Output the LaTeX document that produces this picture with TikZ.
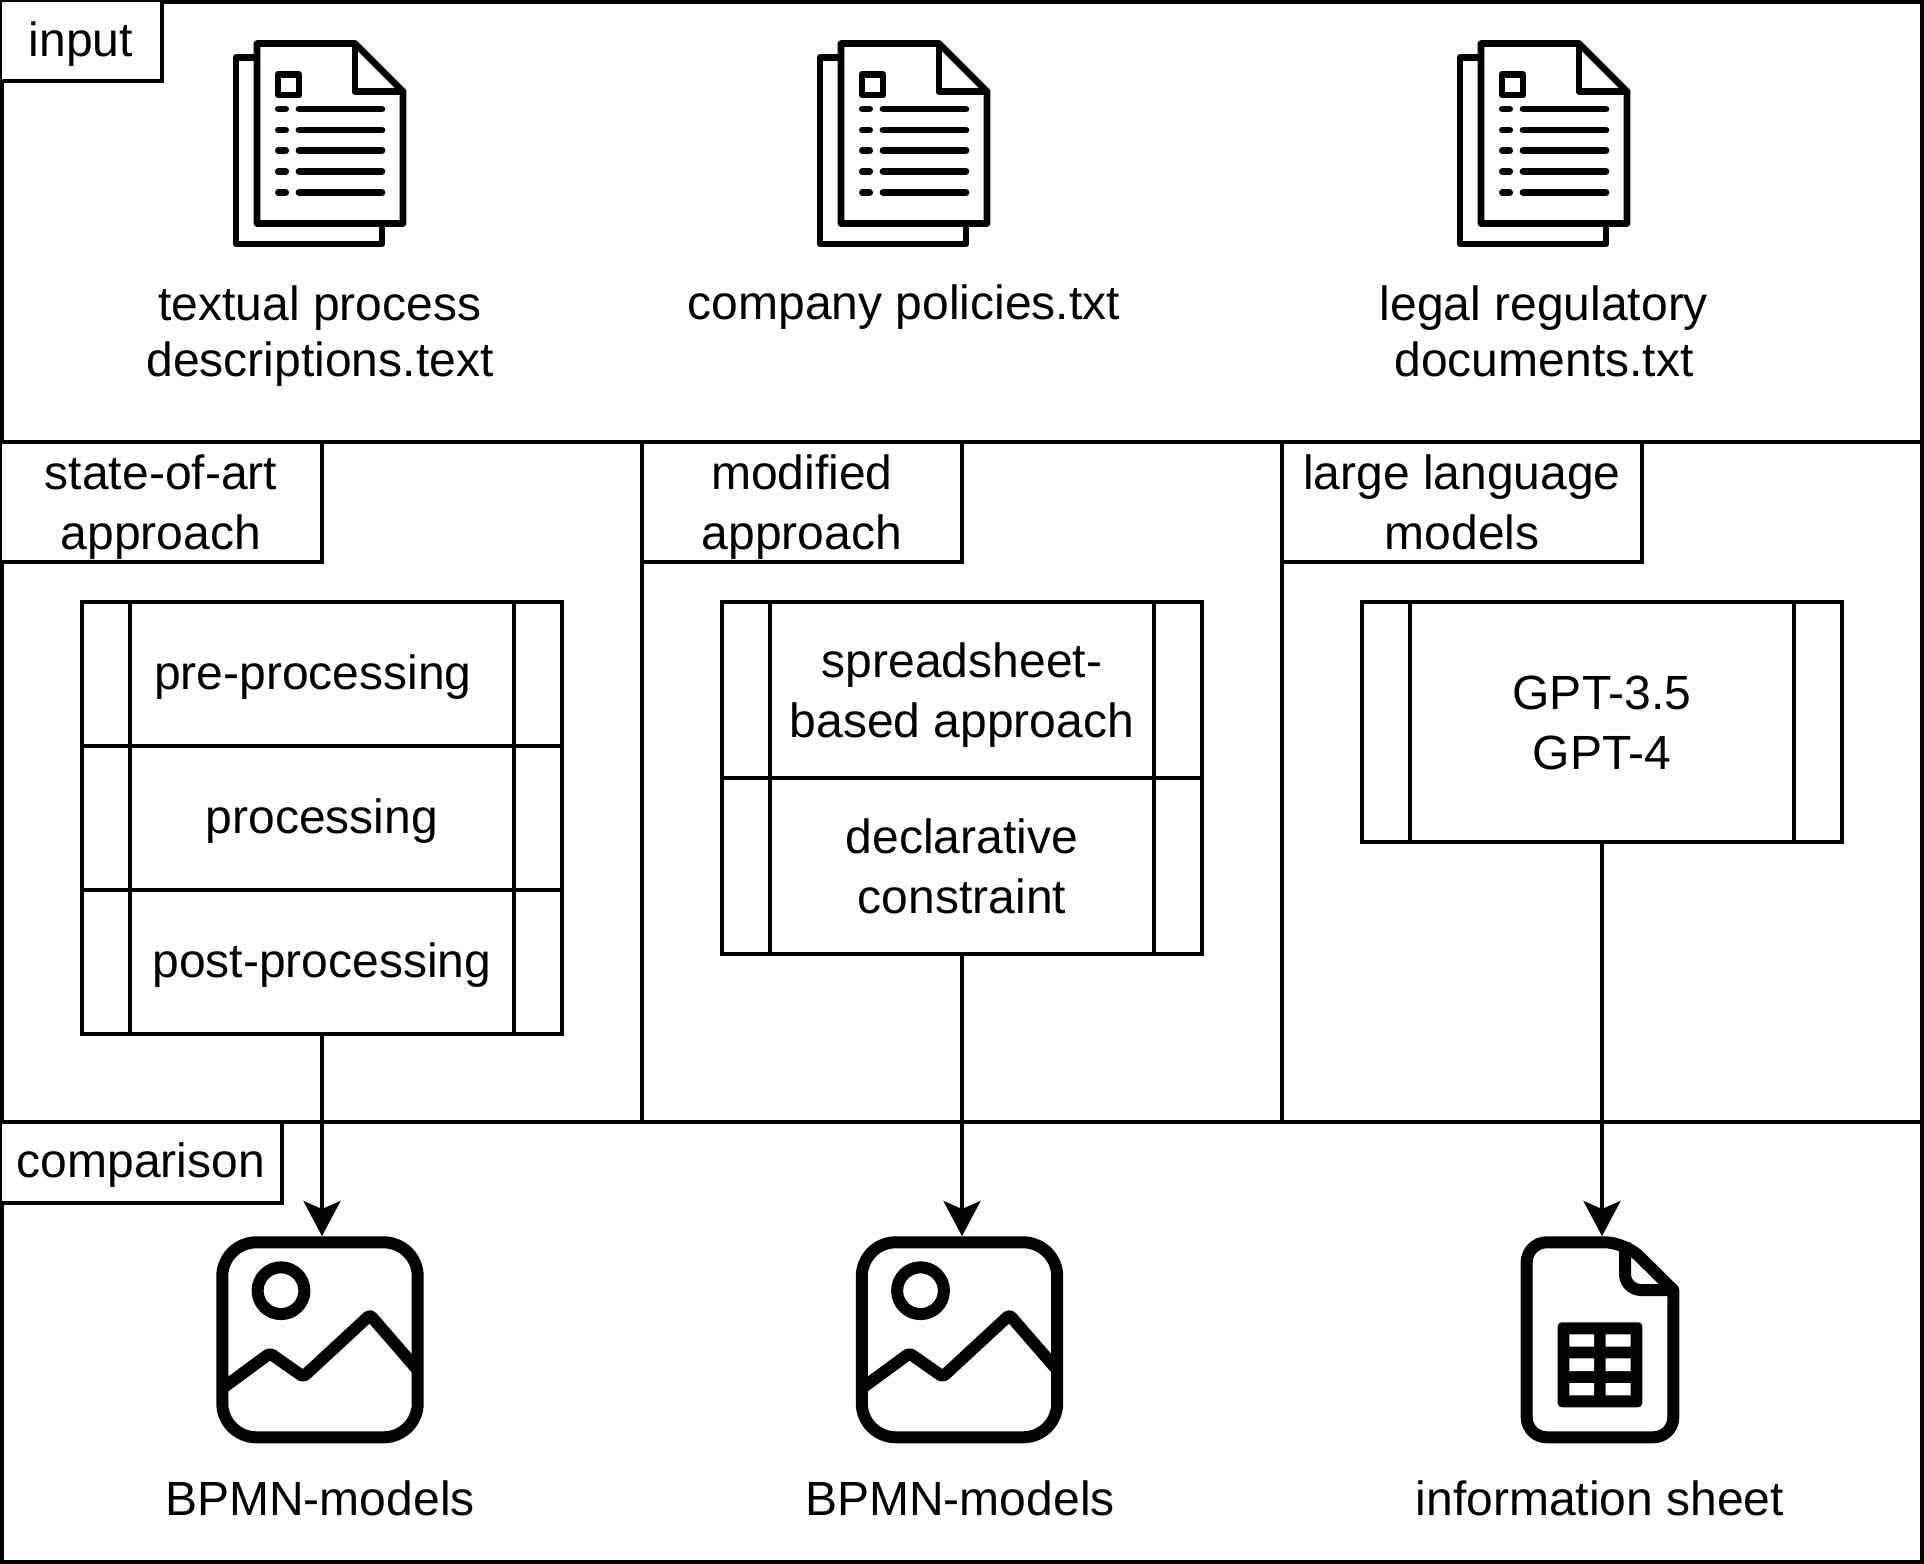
\documentclass[tikz,border=0pt]{standalone}
\usepackage{fontspec}
\setmainfont{Liberation Sans}
\usetikzlibrary{arrows.meta}
\tikzset{
  x=0.5pt, y=-0.5pt,
  every node/.style={font=\fontsize{24}{30}\selectfont, align=center, inner sep=0pt, outer sep=0pt},
  line/.style={line width=2pt, black},
  oneline/.style={text height=20.5pt, text depth=5pt},
  twoline/.style={text height=52pt, text depth=5pt},
  tag/.style={line, draw, anchor=north west, fill=white},
  cell/.style={line, draw, anchor=north, minimum width=240pt},
  caption/.style={font=\fontsize{24}{27.6}\selectfont, text height=49pt, text depth=5pt},
  iconbox/.style={minimum width=98pt, minimum height=104pt},
  link/.style={line, -{Stealth[length=17.5pt, width=18.5pt, inset=4pt]}},
  pics/docicon/.style={code={
    \begin{scope}[line width=3.35pt, line join=round, line cap=round]
      \draw (-63,-86) -- (-84,-86) -- (-84,100.5) -- (62,100.5) -- (62,80);
      \draw (-63,-100) -- (35,-100) -- (83,-52) -- (83,80) -- (-63,80) -- cycle;
      \draw (35,-100) -- (35,-52) -- (83,-52);
      \draw (-42,-69) rectangle (-21,-48.5);
      \foreach \rowy in {-34.5,-13.5,7,28,49} {
        \draw (-41.7,\rowy) -- (-34.3,\rowy);
        \draw (-21,\rowy) -- (62,\rowy);
      }
    \end{scope}
  }},
  pics/imgicon/.style={code={
    \begin{scope}[line width=6pt, line join=round]
      \draw[rounded corners=17pt] (-97.7,-97.7) rectangle (97.7,97.3);
      \draw (-39,-49.3) circle (11.7pt);
      \draw[rounded corners=1.5pt] (-97.7,48.3) -- (-50,13.3) -- (-16.7,36.7) -- (50,-25) -- (97.7,30);
    \end{scope}
  }},
  pics/sheeticon/.style={code={
    \begin{scope}[line width=6pt, line join=round]
      \draw (73.3,-50) [rounded corners=10pt] -- (73.3,97.3) -- (-73.3,97.3) -- (-73.3,-97.7) -- (25,-97.7) [sharp corners] -- cycle;
      \draw[rounded corners=8pt] (25,-97.7) -- (25,-50) -- (73.3,-50);
      \fill[rounded corners=2pt] (-42.3,-17.7) rectangle (42.3,67.3);
      \fill[white] (-30.7,-5.7) rectangle (-6,6.7) (5.7,-5.7) rectangle (30.7,6.7)
        (-30.7,18.3) rectangle (-6,31) (5.7,18.3) rectangle (30.7,31)
        (-30.7,43) rectangle (-6,55.3) (5.7,43) rectangle (30.7,55.3);
    \end{scope}
  }},
}
\begin{document}
\begin{tikzpicture}
  \useasboundingbox (0,0) rectangle (1924,1564);

  % bands
  \draw[line] (2,2) rectangle (1922,1562);
  \draw[line] (0,442) -- (1924,442);
  \draw[line] (0,1121.5) -- (1924,1121.5);
  \draw[line] (642,442) -- (642,1121.5);
  \draw[line] (1282,442) -- (1282,1121.5);

  % band labels
  \node[tag, oneline, minimum width=81pt, minimum height=40.7pt] (taginput) at (0,0) {input};
  \node[tag, twoline, minimum width=161pt, minimum height=60pt] (tagstate) at (0,442) {state-of-art\\approach};
  \node[tag, twoline, minimum width=160pt, minimum height=60pt] (tagmod) at (642,442) {modified\\approach};
  \node[tag, twoline, minimum width=180pt, minimum height=60pt] (taglarge) at (1282,442) {large language\\models};
  \node[tag, oneline, minimum width=141pt, minimum height=40.5pt] (tagcomp) at (0,1121.5) {comparison};

  % input documents
  \node[iconbox] (docA) at (320,143.5) {};
  \node[iconbox] (docB) at (904,143.5) {};
  \node[iconbox] (docC) at (1544,143.5) {};
  \pic at (docA) {docicon};
  \pic at (docB) {docicon};
  \pic at (docC) {docicon};
  \node[caption] (capA) at (320,332) {textual process\\descriptions.text};
  \node[oneline] (capB) at (904,304) {company policies.txt};
  \node[caption] (capC) at (1544,332) {legal regulatory\\documents.txt};

  % state-of-art process
  \node[cell, oneline, minimum height=72pt] (pre) at (322,602) {pre-processing\hspace*{9pt}};
  \node[cell, oneline, minimum height=72pt] (proc) at (322,746) {processing};
  \node[cell, oneline, minimum height=72pt] (post) at (322,890) {post-processing};
  \draw[line] ([xshift=24pt]pre.north west) -- ([xshift=24pt]post.south west);
  \draw[line] ([xshift=-24pt]pre.north east) -- ([xshift=-24pt]post.south east);

  % modified process
  \node[cell, twoline, minimum height=88pt] (sheet) at (962,602) {spreadsheet-\\based approach};
  \node[cell, twoline, minimum height=88pt] (decl) at (962,778) {declarative\\constraint};
  \draw[line] ([xshift=24pt]sheet.north west) -- ([xshift=24pt]decl.south west);
  \draw[line] ([xshift=-24pt]sheet.north east) -- ([xshift=-24pt]decl.south east);

  % llm process
  \node[cell, twoline, minimum height=120pt] (gpt) at (1602,602) {GPT-3.5\\GPT-4};
  \draw[line] ([xshift=24pt]gpt.north west) -- ([xshift=24pt]gpt.south west);
  \draw[line] ([xshift=-24pt]gpt.north east) -- ([xshift=-24pt]gpt.south east);

  % outputs
  \node[iconbox] (imgA) at (320,1340) {};
  \node[iconbox] (imgB) at (959.5,1340) {};
  \node[iconbox] (info) at (1600,1340) {};
  \pic at (imgA) {imgicon};
  \pic at (imgB) {imgicon};
  \pic at (info) {sheeticon};
  \node[oneline] (capD) at (320,1500) {BPMN-models};
  \node[oneline] (capE) at (960,1500) {BPMN-models};
  \node[oneline] (capF) at (1600,1500) {information sheet};

  \draw[link] (post.south) -- (post.south |- imgA.north);
  \draw[link] (decl.south) -- (decl.south |- imgB.north);
  \draw[link] (gpt.south) -- (gpt.south |- info.north);
\end{tikzpicture}
\end{document}
